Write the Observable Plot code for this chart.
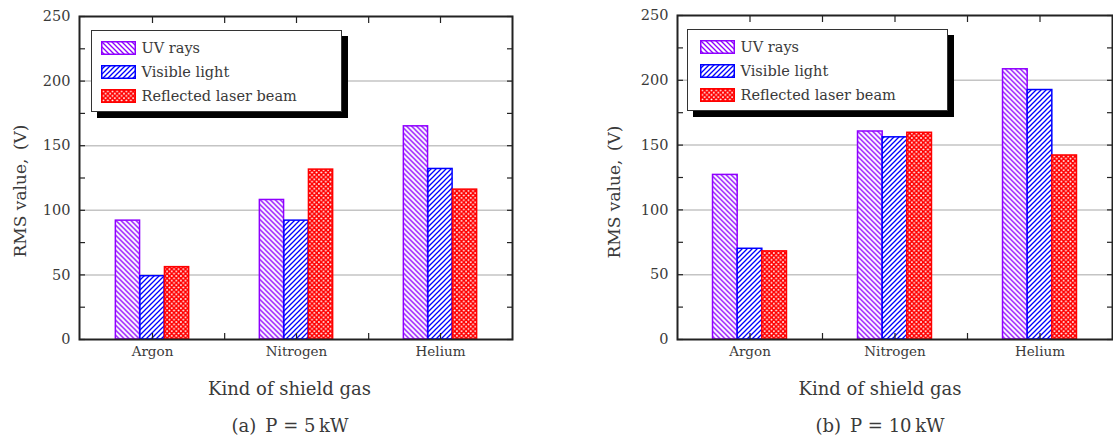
<!DOCTYPE html>
<html>
<head>
<meta charset="utf-8">
<script src="https://cdn.jsdelivr.net/npm/d3@7"></script>
<script src="https://cdn.jsdelivr.net/npm/@observablehq/plot@0.6"></script>
<style>
  html, body { margin: 0; padding: 0; background: #fff; }
  #root { position: relative; width: 1113px; height: 441px; overflow: hidden; font-family: "DejaVu Serif", serif; color: #3a3a3a; }
  .chart { position: absolute; top: 0; }
  .title { position: absolute; font-family: "DejaVu Serif", serif; font-size: 18px; line-height: 20px; white-space: nowrap; transform: translateX(-50%); color: #3a3a3a; }
  .ylab { position: absolute; font-family: "DejaVu Serif", serif; font-size: 17px; line-height: 18px; white-space: nowrap; transform: translate(-50%, -50%) rotate(-90deg); color: #3a3a3a; }
  .legend { position: absolute; box-sizing: border-box; background: #fff; border: 1.5px solid #333; box-shadow: 6px 6px 0 #000; }
  .row { position: absolute; display: flex; align-items: center; height: 14px; font-family: "DejaVu Serif", serif; font-size: 14.5px; white-space: nowrap; color: #3a3a3a; }
  .row svg { margin-right: 6px; flex: none; }
</style>
</head>
<body>
<div id="root"></div>
<script>
// ---- data ----
const gases = ["Argon", "Nitrogen", "Helium"];
const seriesNames = ["UV rays", "Visible light", "Reflected laser beam"];
const p5_uv  = [92, 108, 165];
const p5_vis = [49, 92, 132];
const p5_ref = [56, 131.5, 116];
const p10_uv  = [127, 160.5, 208.5];
const p10_vis = [70, 156, 192.5];
const p10_ref = [68, 159.5, 142];
const yTicks = [0, 50, 100, 150, 200, 250];
const yMinorTicks = [0, 25, 50, 75, 100, 125, 150, 175, 200, 225, 250];
const gridTicks = [50, 100, 150, 200];
const captions = ["(a)\u2002P = 5\u2009kW", "(b)\u2002P = 10\u2009kW"];
const xTitle = "Kind of shield gas";
const yTitle = "RMS value,\u2002(V)";

const colors = ["#8f00ff", "#0000ff", "#ff0000"];
const patternIds = ["pUV", "pVis", "pRef"];

const root = document.getElementById("root");

// global pattern defs
const NS = "http://www.w3.org/2000/svg";
const defsSvg = document.createElementNS(NS, "svg");
defsSvg.setAttribute("width", 0); defsSvg.setAttribute("height", 0);
defsSvg.style.position = "absolute";
defsSvg.innerHTML = `
<defs>
  <pattern id="pUV" patternUnits="userSpaceOnUse" width="5" height="5">
    <rect width="5" height="5" fill="#fff"/>
    <path d="M0,0L5,5M-1,4L1,6M4,-1L6,1" stroke="${colors[0]}" stroke-width="1.3"/>
  </pattern>
  <pattern id="pVis" patternUnits="userSpaceOnUse" width="5" height="5">
    <rect width="5" height="5" fill="#fff"/>
    <path d="M0,5L5,0M-1,1L1,-1M4,6L6,4" stroke="${colors[1]}" stroke-width="1.3"/>
  </pattern>
  <pattern id="pRef" patternUnits="userSpaceOnUse" width="4.6" height="4.6">
    <rect width="4.6" height="4.6" fill="${colors[2]}"/>
    <circle cx="0" cy="0" r="0.95" fill="#fff"/>
    <circle cx="4.6" cy="0" r="0.95" fill="#fff"/>
    <circle cx="0" cy="4.6" r="0.95" fill="#fff"/>
    <circle cx="4.6" cy="4.6" r="0.95" fill="#fff"/>
    <circle cx="2.3" cy="2.3" r="0.95" fill="#fff"/>
  </pattern>
</defs>`;
root.appendChild(defsSvg);

function makeChart(cfg) {
  const {values, left, width, marginLeft, marginRight, marginTop} = cfg;
  const height = 370, bottomY = 339;
  const marginBottom = height - bottomY;
  const bw = (width - marginLeft - marginRight) / gases.length;
  const barW = bw * 0.17;
  const inset = (bw - barW) / 2;

  const marks = [
    Plot.gridY(gridTicks, {stroke: "#c4c4c4", strokeOpacity: 1, strokeWidth: 1.5})
  ];
  values.forEach((vals, si) => {
    const rows = gases.map((g, gi) => ({gas: g, value: vals[gi]}));
    marks.push(Plot.barY(rows, {
      x: "gas", y: "value",
      fill: `url(#${patternIds[si]})`,
      stroke: colors[si], strokeWidth: 1.5,
      insetLeft: inset, insetRight: inset,
      dx: (si - 1) * barW
    }));
  });
  const tickStyle = {stroke: "#222", strokeWidth: 1.2, fill: "none", label: null};
  marks.push(
    Plot.axisY({anchor: "left", ticks: yMinorTicks, tickSize: 6, dx: 6, ...tickStyle}),
    Plot.axisY({anchor: "right", ticks: yMinorTicks, tickSize: 6, dx: -6, ...tickStyle}),
    Plot.axisX({anchor: "top", tickSize: 6, dy: 6, ...tickStyle}),
    Plot.axisX({anchor: "top", ticks: gases.slice(0, -1), tickSize: 6, dy: 6, dx: bw / 2, ...tickStyle}),
    Plot.axisX({anchor: "bottom", tickSize: 6, dy: -6, ...tickStyle}),
    Plot.axisX({anchor: "bottom", ticks: gases.slice(0, -1), tickSize: 6, dy: -6, dx: bw / 2, ...tickStyle}),
    Plot.axisY({anchor: "left", ticks: yTicks, tickSize: 0, tickPadding: 9, fontSize: 14.5, fill: "#3a3a3a", label: null}),
    Plot.axisX({anchor: "bottom", tickSize: 0, tickPadding: 7, fontSize: 13.5, fill: "#3a3a3a", label: null}),
    Plot.frame({stroke: "#222", strokeWidth: 2})
  );

  const svg = Plot.plot({
    width, height, marginLeft, marginRight, marginTop, marginBottom,
    style: {fontFamily: "DejaVu Serif, serif", background: "transparent", overflow: "visible"},
    x: {type: "band", domain: gases, padding: 0},
    y: {domain: [0, 250]},
    marks
  });
  svg.classList.add("chart");
  svg.style.left = left + "px";
  root.appendChild(svg);
}

makeChart({values: [p5_uv, p5_vis, p5_ref], left: 0, width: 556, marginLeft: 79, marginRight: 44, marginTop: 16});
makeChart({values: [p10_uv, p10_vis, p10_ref], left: 556, width: 557, marginLeft: 121, marginRight: 1, marginTop: 15});

// titles & captions
function addText(cls, text, x, y) {
  const d = document.createElement("div");
  d.className = cls; d.textContent = text;
  d.style.left = x + "px"; d.style.top = y + "px";
  root.appendChild(d);
  return d;
}
addText("title", xTitle, 289.5, 379);
addText("title", xTitle, 880, 379);
addText("title", captions[0], 290, 416);
addText("title", captions[1], 880, 416);
addText("ylab", yTitle, 20, 191);
addText("ylab", yTitle, 613.5, 192);

// legends
function addLegend(x, y, w, h, swX) {
  const lg = document.createElement("div");
  lg.className = "legend";
  Object.assign(lg.style, {left: x + "px", top: y + "px", width: w + "px", height: h + "px"});
  seriesNames.forEach((name, i) => {
    const row = document.createElement("div");
    row.className = "row";
    row.style.left = (swX - x - 1.5) + "px";
    row.style.top = (10 + i * 24) + "px";
    row.innerHTML = `<svg width="35" height="14"><rect x="0.75" y="0.75" width="33.5" height="12.5" fill="url(#${patternIds[i]})" stroke="${colors[i]}" stroke-width="1.5"/></svg><span>${name}</span>`;
    lg.appendChild(row);
  });
  root.appendChild(lg);
}
addLegend(91, 30, 251, 82, 101);
addLegend(687, 29, 261, 82, 700);
</script>
</body>
</html>
